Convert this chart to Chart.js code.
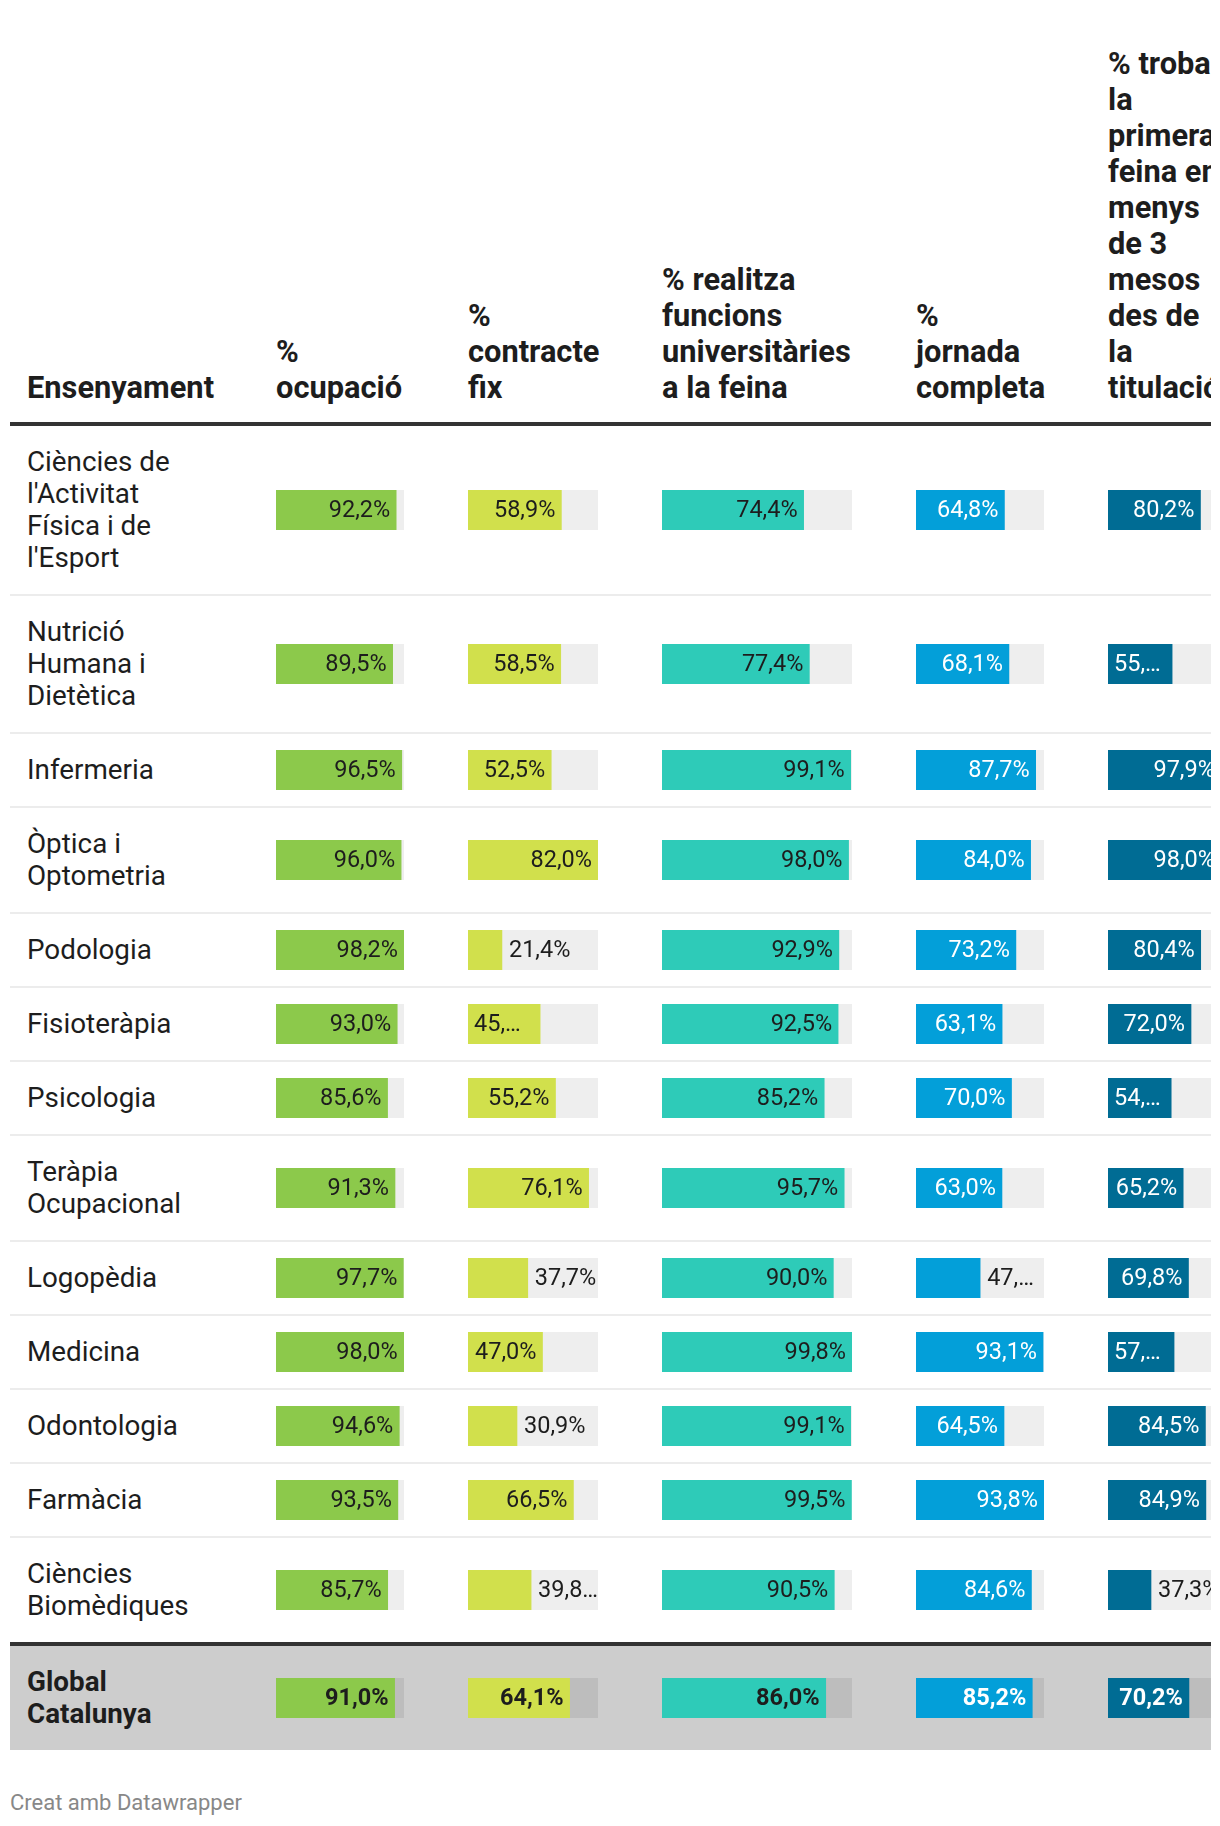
<!DOCTYPE html>
<html>
<head>
<meta charset="utf-8">
<script src="https://cdn.jsdelivr.net/npm/chart.js@4.4.0/dist/chart.umd.min.js"></script>
<style>
  body { margin: 0; background: #fff; font-family: Roboto, sans-serif; color: #1d1d1d; }
  #page { position: relative; width: 1220px; height: 1826px; overflow: hidden; }
  #tbl { position: absolute; left: 10px; top: 0; width: 1201px; height: 1760px; overflow: hidden; }
  .hd { position: absolute; bottom: 0; font-weight: 700; font-size: 30.8px; line-height: 36px; white-space: nowrap; }
  .lbl { position: absolute; width: 178px; font-size: 27.8px; line-height: 32px; }
  .line { position: absolute; left: 0; width: 100%; }
  canvas { position: absolute; }
  #foot { position: absolute; left: 10px; top: 1790px; font-size: 22px; line-height: 26px; color: #888; }
</style>
</head>
<body>
<div id="page">
  <div id="tbl">
    <div id="head" style="position:absolute;left:0;top:0;width:100%;height:406px"></div>
  </div>
  <div id="foot">Creat amb Datawrapper</div>
</div>
<script>
// files de la taula (l'última és el total)
const categories = [
  "Ciències de l'Activitat Física i de l'Esport",
  "Nutrició Humana i Dietètica",
  "Infermeria",
  "Òptica i Optometria",
  "Podologia",
  "Fisioteràpia",
  "Psicologia",
  "Teràpia Ocupacional",
  "Logopèdia",
  "Medicina",
  "Odontologia",
  "Farmàcia",
  "Ciències Biomèdiques",
  "Global Catalunya"
];

const ocupacio        = [92.2, 89.5, 96.5, 96.0, 98.2, 93.0, 85.6, 91.3, 97.7, 98.0, 94.6, 93.5, 85.7, 91.0];
const contracteFix    = [58.9, 58.5, 52.5, 82.0, 21.4, 45.5, 55.2, 76.1, 37.7, 47.0, 30.9, 66.5, 39.8, 64.1];
const funcionsUniv    = [74.4, 77.4, 99.1, 98.0, 92.9, 92.5, 85.2, 95.7, 90.0, 99.8, 99.1, 99.5, 90.5, 86.0];
const jornadaCompleta = [64.8, 68.1, 87.7, 84.0, 73.2, 63.1, 70.0, 63.0, 47.0, 93.1, 64.5, 93.8, 84.6, 85.2];
const feina3Mesos     = [80.2, 55.6, 97.9, 98.0, 80.4, 72.0, 54.8, 65.2, 69.8, 57.3, 84.5, 84.9, 37.3, 70.2];

const headerLines = [
  ["Ensenyament"],
  ["%", "ocupació"],
  ["%", "contracte", "fix"],
  ["% realitza", "funcions", "universitàries", "a la feina"],
  ["%", "jornada", "completa"],
  ["% troba", "la", "primera", "feina en", "menys", "de 3", "mesos", "des de", "la", "titulació"]
];

const columns = [ocupacio, contracteFix, funcionsUniv, jornadaCompleta, feina3Mesos];
const colColors = ["#8cc94b", "#d1e04c", "#2ecbb8", "#039fd9", "#006c94"];
const inTextColors = ["#1d1d1d", "#1d1d1d", "#1d1d1d", "#ffffff", "#ffffff"];
const colX = [266, 458, 652, 906, 1098];   // relative to table
const colW = [128, 130, 190, 128, 113];

function fmt(v) { return v.toFixed(1).replace(".", ",") + "%"; }

const cellLabel = {
  id: "cellLabel",
  afterDatasetsDraw(chart, args, o) {
    const ctx = chart.ctx;
    const bar = chart.getDatasetMeta(0).data[0];
    const v = chart.data.datasets[0].data[0];
    const right = chart.chartArea.right;
    const padIn = 6, gapOut = 7;
    const ty = bar.y + 1;
    ctx.save();
    ctx.font = (o.bold ? "700 " : "400 ") + "23.5px Roboto";
    ctx.textBaseline = "middle";
    let txt = fmt(v);
    const w = ctx.measureText(txt).width;
    const inside = bar.x - bar.base, outside = right - bar.x;
    const trunc = (avail) => {
      let s = txt;
      while (s.length > 1 && ctx.measureText(s + "…").width > avail) s = s.slice(0, -1);
      return s + "…";
    };
    if (w + 2 * padIn <= inside) {
      ctx.fillStyle = o.inColor; ctx.textAlign = "right";
      ctx.fillText(txt, bar.x - padIn, ty);
    } else if (w + gapOut <= outside) {
      ctx.fillStyle = "#1d1d1d"; ctx.textAlign = "left";
      ctx.fillText(txt, bar.x + gapOut, ty);
    } else if (inside - outside > 4) {
      ctx.fillStyle = o.inColor; ctx.textAlign = "left";
      ctx.fillText(trunc(inside - 2 * padIn - 4), bar.base + padIn, ty);
    } else {
      ctx.fillStyle = "#1d1d1d"; ctx.textAlign = "left";
      ctx.fillText(trunc(outside - gapOut + 2), bar.x + gapOut, ty);
    }
    ctx.restore();
  }
};

const tbl = document.getElementById("tbl");
const head = document.getElementById("head");

headerLines.forEach((lines, c) => {
  const d = document.createElement("div");
  d.className = "hd";
  d.style.left = (c === 0 ? 17 : colX[c - 1]) + "px";
  d.innerHTML = lines.join("<br>");
  head.appendChild(d);
});

function addLine(y, h, color) {
  const l = document.createElement("div");
  l.className = "line";
  l.style.top = y + "px"; l.style.height = h + "px"; l.style.background = color;
  tbl.appendChild(l);
}

addLine(422, 4, "#333");

let y = 426;
const last = categories.length - 1;
categories.forEach((name, i) => {
  const total = i === last;
  const lbl = document.createElement("div");
  lbl.className = "lbl";
  lbl.style.left = "17px";
  if (total) lbl.style.fontWeight = "700";
  lbl.textContent = name;
  tbl.appendChild(lbl);
  const n = Math.round(lbl.offsetHeight / 32);
  const h = 32 * n + 40;
  if (total) {
    const bg = document.createElement("div");
    bg.className = "line";
    bg.style.top = y + "px"; bg.style.height = h + "px"; bg.style.background = "#cdcdcd";
    tbl.insertBefore(bg, lbl);
  }
  lbl.style.top = (y + (h - 32 * n) / 2) + "px";

  columns.forEach((vals, c) => {
    const cv = document.createElement("canvas");
    cv.width = colW[c]; cv.height = 40;
    cv.style.left = colX[c] + "px";
    cv.style.top = (y + (h - 40) / 2) + "px";
    tbl.appendChild(cv);
    const colMax = Math.max(...vals);
    new Chart(cv, {
      type: "bar",
      data: {
        labels: [name],
        datasets: [
          { data: [vals[i]], backgroundColor: colColors[c], order: 0, grouped: false,
            barPercentage: 1, categoryPercentage: 1, borderWidth: 0 },
          { data: [colMax], backgroundColor: total ? "#bdbdbd" : "#eeeeee", order: 1, grouped: false,
            barPercentage: 1, categoryPercentage: 1, borderWidth: 0 }
        ]
      },
      options: {
        indexAxis: "y",
        responsive: false,
        animation: false,
        devicePixelRatio: 1,
        layout: { padding: 0 },
        events: [],
        plugins: {
          legend: { display: false },
          tooltip: { enabled: false },
          cellLabel: { bold: total, inColor: inTextColors[c] }
        },
        scales: {
          x: { display: false, min: 0, max: colMax },
          y: { display: false }
        }
      },
      plugins: [cellLabel]
    });
  });

  if (i === last - 1) {
    addLine(y + h, 4, "#333");
    y += h + 4;
  } else if (!total) {
    addLine(y + h, 2, "#ececec");
    y += h + 2;
  }
});
</script>
</body>
</html>
